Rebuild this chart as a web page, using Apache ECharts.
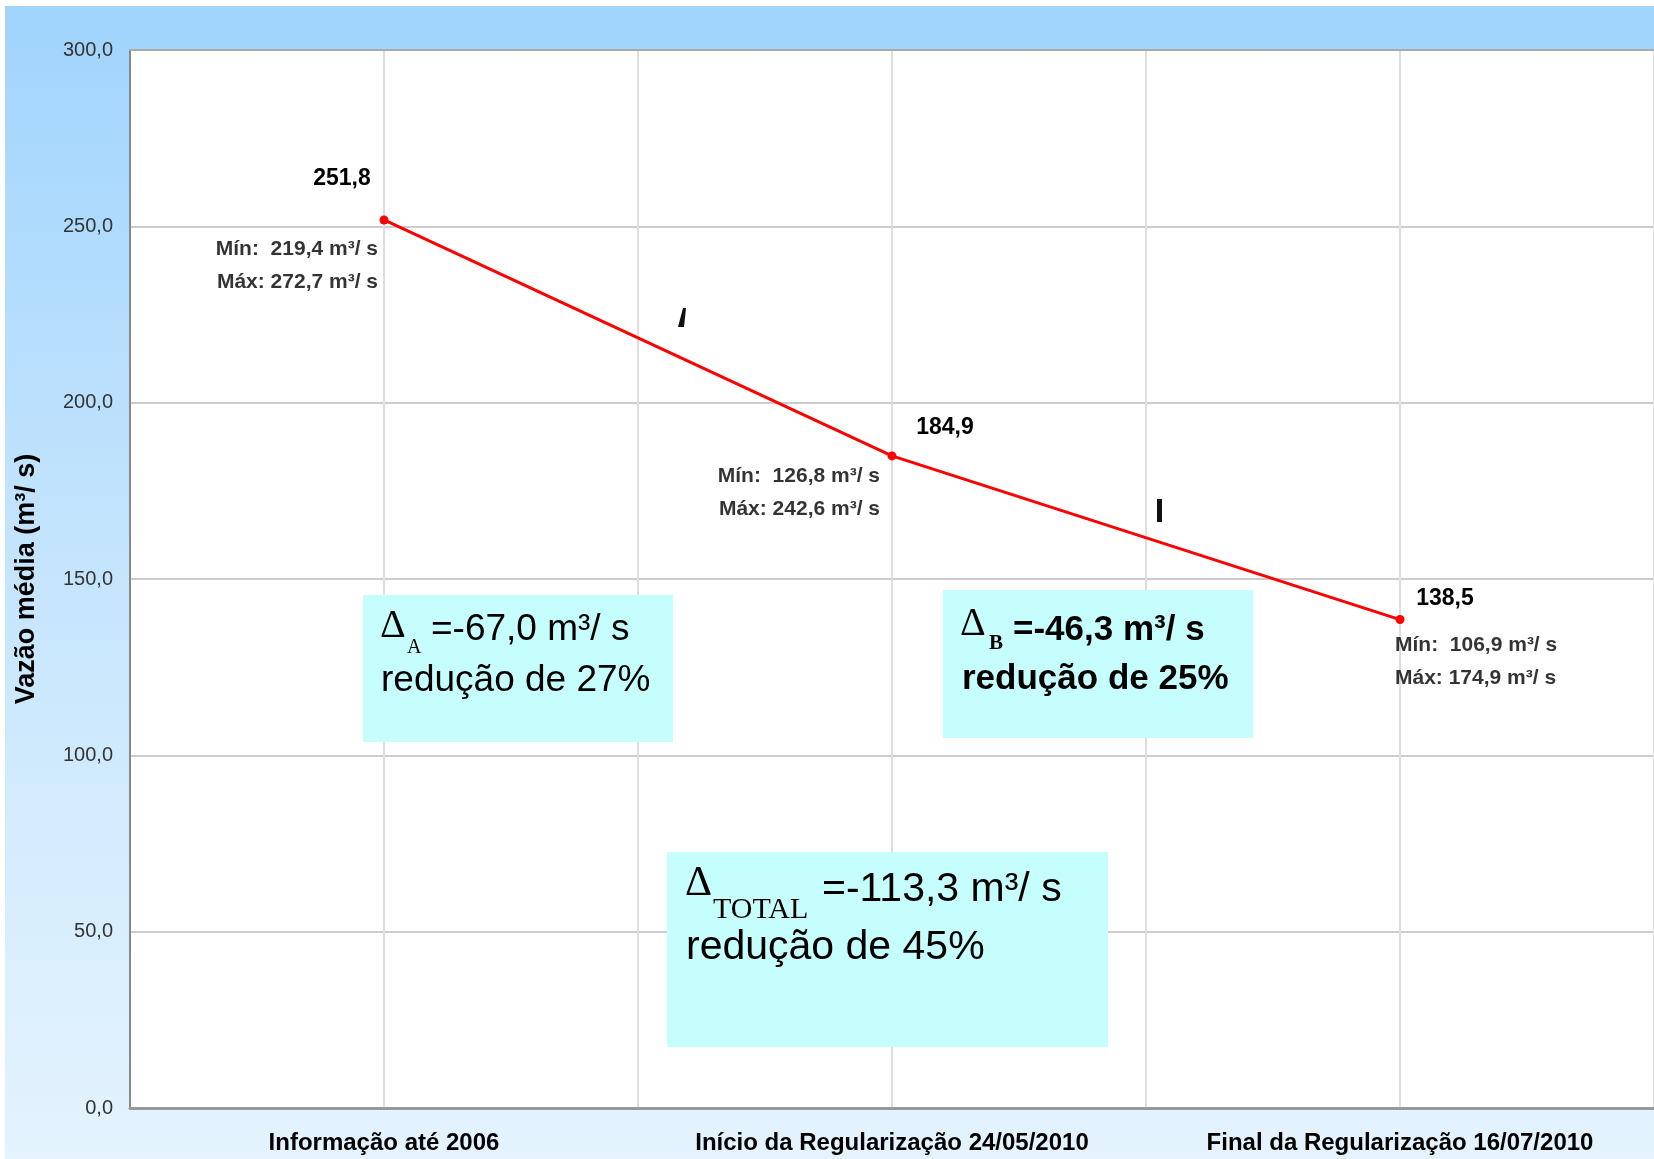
<!DOCTYPE html>
<html>
<head>
<meta charset="utf-8">
<script src="https://cdn.jsdelivr.net/npm/echarts@6/dist/echarts.min.js"></script>
<style>
  html, body { margin: 0; padding: 0; background: #fff; }
  #wrap { position: relative; width: 1654px; height: 1159px; background: #fff; overflow: hidden; }
  #bg { position: absolute; left: 5px; top: 6px; right: 0; bottom: 0;
        background: linear-gradient(to bottom, #a0d4fd 0%, #bfe2fd 40%, #d6edfd 75%, #e4f3fe 100%); }
  #chart { position: absolute; left: 0; top: 0; width: 1654px; height: 1159px; }
</style>
</head>
<body>
<div id="wrap"><div id="bg"></div><div id="chart"></div></div>
<script>
// ---- data ----
const categories = ['Informação até 2006', 'Início da Regularização 24/05/2010', 'Final da Regularização 16/07/2010'];
const meanFlow = [251.8, 184.9, 138.5];
const minFlow = [219.4, 126.8, 106.9];
const maxFlow = [272.7, 242.6, 174.9];
const yTicks = { min: 0, max: 300, interval: 50 };
const yAxisName = 'Vazão média (m³/ s)';

// ---- label layout (styling only) ----
const valueLabelOffsets = [[-42, -41], [53, -28], [45, -21]];
const rangeLabelOffsets = [[-6, 46], [-12, 37], [-5, 42]];
const rangeLabelAlign = ['right', 'right', 'left'];

const fmt = v => v.toFixed(1).replace('.', ',');
const FONT = 'Liberation Sans, Arial, Helvetica, sans-serif';
const SERIF = 'Liberation Serif, Times New Roman, serif';

const chart = echarts.init(document.getElementById('chart'), null, { renderer: 'canvas' });

const lineData = meanFlow.map((v, i) => ({
  value: v,
  label: { offset: valueLabelOffsets[i] }
}));
const rangeData = meanFlow.map((v, i) => ({
  value: v,
  label: {
    offset: rangeLabelOffsets[i],
    align: rangeLabelAlign[i],
    formatter: 'Mín:  ' + fmt(minFlow[i]) + ' m³/ s\nMáx: ' + fmt(maxFlow[i]) + ' m³/ s'
  }
}));

function t(x, y, text, size, opts) {
  opts = opts || {};
  return {
    type: 'text', x: x, y: y, z: 110,
    style: {
      text: text,
      fontSize: size,
      fontFamily: opts.family || FONT,
      fontWeight: opts.bold ? 'bold' : 'normal',
      fill: '#000',
      align: 'left',
      verticalAlign: 'middle'
    }
  };
}
function box(x, y, w, h) {
  return { type: 'rect', z: 100, shape: { x: x, y: y, width: w, height: h }, style: { fill: '#c6fefe' } };
}

const option = {
  backgroundColor: 'transparent',
  animation: false,
  grid: { left: 130, right: -3, top: 50, bottom: 51, show: true, backgroundColor: '#ffffff', borderWidth: 0 },
  xAxis: [
    {
      type: 'category',
      data: categories,
      boundaryGap: true,
      position: 'bottom',
      axisLine: { show: true, lineStyle: { color: '#999', width: 3 } },
      axisTick: { show: false },
      axisLabel: { interval: 0, hideOverlap: false, color: '#000', fontSize: 24, fontWeight: 'bold', fontFamily: FONT, margin: 23 },
      splitLine: { show: true, lineStyle: { color: '#c4c4c4', width: 2 } }
    },
    {
      type: 'category',
      data: ['', '', '', '', '', ''],
      boundaryGap: true,
      position: 'top',
      axisLine: { show: true, lineStyle: { color: '#aaa', width: 2 } },
      axisTick: { show: false },
      axisLabel: { show: false },
      splitLine: { show: true, interval: 0, lineStyle: { color: '#dedede', width: 2 } }
    }
  ],
  yAxis: {
    type: 'value',
    min: yTicks.min, max: yTicks.max, interval: yTicks.interval,
    name: yAxisName,
    nameLocation: 'middle',
    nameRotate: 90,
    nameGap: 90,
    nameTextStyle: { fontSize: 27, fontWeight: 'bold', color: '#000', fontFamily: FONT },
    axisLine: { show: true, lineStyle: { color: '#888', width: 2 } },
    axisTick: { show: false },
    axisLabel: { color: '#333', fontSize: 20, fontFamily: FONT, margin: 17, formatter: v => fmt(v) },
    splitLine: { show: true, lineStyle: { color: '#cccccc', width: 2 } }
  },
  series: [
    {
      type: 'line',
      xAxisIndex: 0,
      data: lineData,
      z: 5,
      symbol: 'circle',
      symbolSize: 9,
      lineStyle: { color: '#ff0000', width: 3 },
      itemStyle: { color: '#ff0000' },
      label: {
        show: true, position: 'inside', align: 'center', verticalAlign: 'middle',
        color: '#000', fontSize: 23, fontWeight: 'bold', fontFamily: FONT,
        formatter: p => fmt(p.value)
      }
    },
    {
      type: 'scatter',
      xAxisIndex: 0,
      data: rangeData,
      z: 6,
      symbolSize: 1,
      itemStyle: { color: 'rgba(0,0,0,0)' },
      label: {
        show: true, position: 'inside', verticalAlign: 'middle',
        color: '#000', fontSize: 21, fontWeight: 'bold', fontFamily: FONT, lineHeight: 33
      }
    }
  ],
  graphic: [
    // box A
    box(363, 595, 310, 147),
    t(380, 626, 'Δ', 40, { family: SERIF }),
    t(407, 648, 'A', 20, { family: SERIF }),
    t(431, 630, '=-67,0 m³/ s', 37),
    t(381, 681, 'redução de 27%', 37),
    // box B
    box(943, 590, 310, 148),
    t(960, 624, 'Δ', 40, { family: SERIF }),
    t(989, 644, 'B', 21, { family: SERIF, bold: true }),
    t(1013, 630, '=-46,3 m³/ s', 35, { bold: true }),
    t(962, 679, 'redução de 25%', 35, { bold: true }),
    // box total
    box(667, 852, 441, 195),
    t(685, 884, 'Δ', 42, { family: SERIF }),
    t(713, 910, 'TOTAL', 30, { family: SERIF }),
    t(822, 890, '=-113,3 m³/ s', 41),
    t(686, 948, 'redução de 45%', 41),
    // stray marks in the source
    { type: 'polygon', z: 100, shape: { points: [[683, 308], [686, 308], [684, 327], [678, 327]] }, style: { fill: '#111' } },
    { type: 'rect', z: 100, shape: { x: 1157, y: 499, width: 5, height: 23 }, style: { fill: '#111' } }
  ]
};
chart.setOption(option);
</script>
</body>
</html>
